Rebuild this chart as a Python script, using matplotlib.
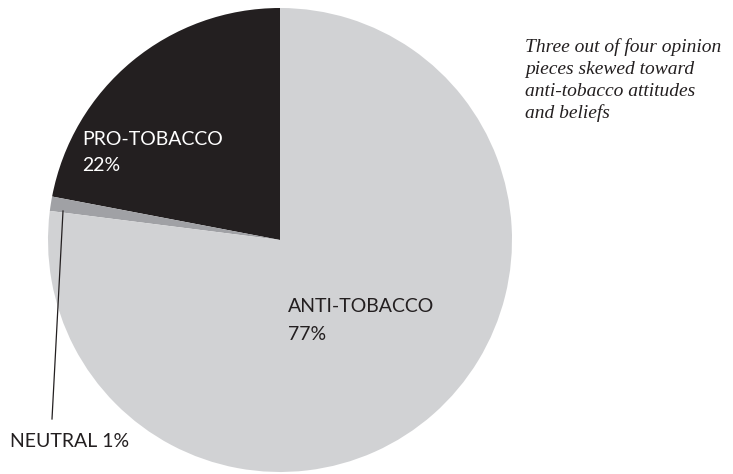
import matplotlib.pyplot as plt

labels = ['PRO-TOBACCO', 'NEUTRAL', 'ANTI-TOBACCO']
shares = [22, 1, 77]
colors = ['#231f20', '#a0a1a5', '#d1d2d4']
note_lines = ['Three out of four opinion', 'pieces skewed toward',
              'anti-tobacco attitudes', 'and beliefs']

W, H = 733, 474
fig = plt.figure(figsize=(W / 100, H / 100), dpi=100)
ax = fig.add_axes([0, 0, 1, 1])

# pie in pixel coords, y measured from bottom
cx, cy, r = 280, H - 240, 232
ax.pie(shares, colors=colors, startangle=90, counterclock=True,
       center=(cx, cy), radius=r, frame=True,
       wedgeprops=dict(linewidth=0))
ax.set_xlim(0, W)
ax.set_ylim(0, H)
ax.set_aspect('equal')
ax.axis('off')

font = dict(family='Lato', fontsize=14, fontweight='normal', zorder=5)

ax.text(82, H - 145, labels[0], color='white', va='baseline', **font)
ax.text(82, H - 171, f'{shares[0]}%', color='white', va='baseline', **font)
ax.text(288, H - 312, labels[2], color='#231f20', va='baseline', **font)
ax.text(288, H - 340, f'{shares[2]}%', color='#231f20', va='baseline', **font)
ax.text(10, H - 447, f'{labels[1]} {shares[1]}%', color='#231f20',
        va='baseline', **font)

# leader line for the neutral slice
ax.plot([63, 52], [H - 211, H - 419], color='#231f20', linewidth=0.9,
        zorder=5)

for i, line in enumerate(note_lines):
    ax.text(525, H - 52 - 22 * i, line, family='Liberation Serif',
            style='italic', fontsize=14, color='#231f20', va='baseline')

fig.savefig('out.png', dpi=100)
